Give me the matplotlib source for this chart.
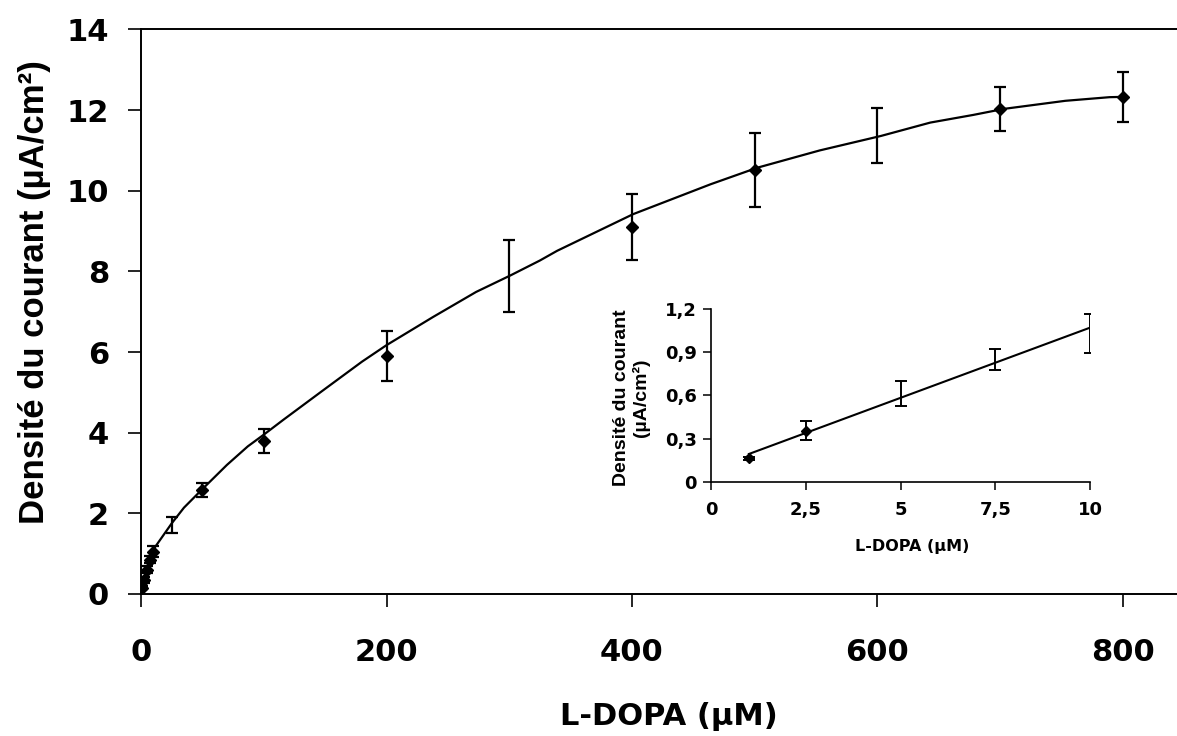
import matplotlib
matplotlib.use("Agg")
import matplotlib.pyplot as plt

HFONT = ['DejaVu Sans']                    # horizontal texts
VFONT = ['Liberation Sans', 'DejaVu Sans']  # vertical texts
plt.rcParams['font.family'] = HFONT
plt.rcParams['font.weight'] = 'bold'

# ---- main plot data ----
conc_marked = [1, 2.5, 5, 7.5, 10, 50, 100, 200, 400, 500, 700, 800]
dens_marked = [0.16, 0.35, 0.60, 0.85, 1.05, 2.57, 3.79, 5.90, 9.11, 10.52, 12.03, 12.33]
err_marked = [0.03, 0.07, 0.09, 0.08, 0.14, 0.17, 0.29, 0.62, 0.82, 0.92, 0.54, 0.62]

conc_plain = [25, 300, 600]
dens_plain = [1.72, 7.88, 11.37]
err_plain = [0.20, 0.89, 0.69]

curve_x = [1, 5, 10, 25, 35, 50, 70, 87, 100, 116, 147, 180, 200, 238, 273, 301,
           325, 339, 401, 464, 502, 553, 603, 643, 678, 703, 753, 789, 803]
curve_y = [0.19, 0.60, 1.10, 1.75, 2.14, 2.60, 3.20, 3.66, 3.95, 4.32, 5.02, 5.76,
           6.17, 6.87, 7.49, 7.90, 8.27, 8.51, 9.42, 10.16, 10.57, 11.00, 11.36,
           11.69, 11.88, 12.03, 12.23, 12.32, 12.33]

main_xticks = [0, 200, 400, 600, 800]
main_yticks = [0, 2, 4, 6, 8, 10, 12, 14]

# ---- inset data ----
in_conc_marked = [1, 2.5]
in_dens_marked = [0.163, 0.356]
in_err_marked = [0.01, 0.066]

in_conc_plain = [5, 7.5, 10]
in_dens_plain = [0.612, 0.848, 1.034]
in_err_plain = [0.086, 0.073, 0.136]

in_fit_x = [1, 10]
in_fit_y = [0.193, 1.072]

in_xticks = [0, 2.5, 5, 7.5, 10]
in_xlabels = ['0', '2,5', '5', '7,5', '10']
in_yticks = [0, 0.3, 0.6, 0.9, 1.2]
in_ylabels = ['0', '0,3', '0,6', '0,9', '1,2']

fig = plt.figure(figsize=(11.77, 7.36), dpi=100)
ax = fig.add_axes([0.1198, 0.193, 1.0 - 0.1198, 0.960 - 0.193])

ax.plot(curve_x, curve_y, color='black', lw=1.6, zorder=2)
ax.errorbar(conc_marked, dens_marked, yerr=err_marked, fmt='D', color='black',
            ms=6.5, ecolor='black', elinewidth=1.6, capsize=4, capthick=1.6, zorder=3)
ax.errorbar(conc_plain, dens_plain, yerr=err_plain, fmt='none',
            ecolor='black', elinewidth=1.6, capsize=4, capthick=1.6, zorder=3)

ax.set_xlim(0, 844)
ax.set_ylim(0, 14)
ax.set_xticks(main_xticks)
ax.set_yticks(main_yticks)
ax.tick_params(axis='both', direction='out', length=9.4, width=1.2, labelsize=22)
ax.tick_params(axis='x', pad=22.5)
ax.tick_params(axis='y', pad=13.5)
for lab in ax.get_xticklabels() + ax.get_yticklabels():
    lab.set_fontweight('bold')
ax.spines['right'].set_visible(False)
for s in ['left', 'bottom', 'top']:
    ax.spines[s].set_linewidth(1.4)
ax.set_xlabel('L-DOPA (µM)', fontsize=22, fontweight='bold')
ax.xaxis.set_label_coords(0.51, -0.192)
ax.set_ylabel('Densité du courant (µA/cm²)', fontsize=25, fontweight='bold',
              family=VFONT)
ax.yaxis.set_label_coords(-0.087, 0.534)

# ---- inset ----
axi = fig.add_axes([0.6041, 0.3455, 0.9261 - 0.6041, 0.5798 - 0.3455])
axi.plot(in_fit_x, in_fit_y, color='black', lw=1.5, zorder=2)
axi.errorbar(in_conc_marked, in_dens_marked, yerr=in_err_marked, fmt='D', color='black',
             ms=5.5, ecolor='black', elinewidth=1.4, capsize=4, capthick=1.4, zorder=3)
axi.errorbar(in_conc_plain, in_dens_plain, yerr=in_err_plain, fmt='none',
             ecolor='black', elinewidth=1.4, capsize=4, capthick=1.4, zorder=3)
axi.set_xlim(0, 10)
axi.set_ylim(0, 1.2)
axi.set_xticks(in_xticks)
axi.set_xticklabels(in_xlabels)
axi.set_yticks(in_yticks)
axi.set_yticklabels(in_ylabels)
axi.tick_params(axis='both', direction='out', length=5.8, width=1.1, labelsize=13)
axi.tick_params(axis='x', pad=8)
axi.tick_params(axis='y', pad=4.3)
for lab in axi.get_xticklabels() + axi.get_yticklabels():
    lab.set_fontweight('bold')
axi.spines['right'].set_visible(False)
axi.spines['top'].set_visible(False)
for s in ['left', 'bottom']:
    axi.spines[s].set_linewidth(1.2)
axi.set_facecolor('none')
axi.set_xlabel('L-DOPA (µM)', fontsize=11.5, fontweight='bold')
axi.xaxis.set_label_coords(0.53, -0.335)
axi.set_ylabel('Densité du courant\n(µA/cm²)', fontsize=14, fontweight='bold',
               family=VFONT, linespacing=1.15)
axi.yaxis.set_label_coords(-0.16, 0.485)

fig.savefig('out.png', dpi=100)
